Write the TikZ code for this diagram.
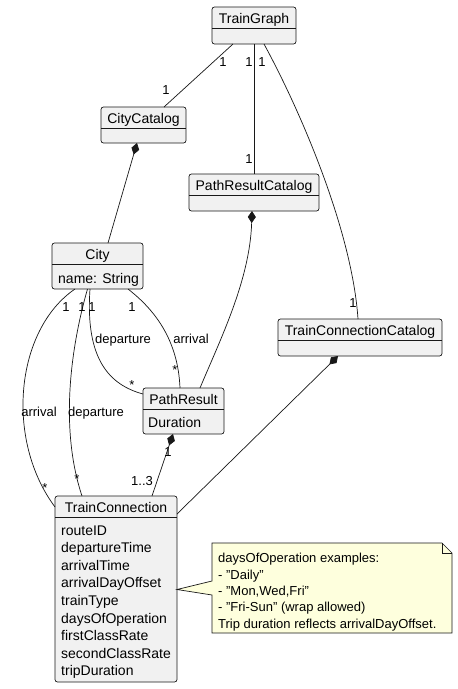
\documentclass[tikz,border=0pt]{standalone}
\usepackage{fontspec}
\setmainfont{Liberation Sans}
\usetikzlibrary{arrows.meta,calc}
\definecolor{lc}{HTML}{181818}
\definecolor{bf}{HTML}{F1F1F1}
\definecolor{nf}{HTML}{FEFFDD}
\tikzset{
 cls/.style={draw=lc, fill=bf, rounded corners=2.5pt, inner sep=0pt, outer sep=0pt, line width=0.7pt},
 cname/.style={anchor=base, inner sep=0pt, font=\fontsize{14}{16}\selectfont},
 attr/.style={anchor=base west, inner sep=0pt, font=\fontsize{14}{16}\selectfont},
 lbl/.style={anchor=base, inner sep=0pt, font=\fontsize{13}{15}\selectfont},
 ntxt/.style={anchor=base west, inner sep=0pt, font=\fontsize{13}{15}\selectfont},
 conn/.style={draw=lc, line width=0.7pt},
 comp/.style={conn, {Diamond[length=12pt,width=8pt,fill=lc]}-},
}
\begin{document}
\begin{tikzpicture}[x=1pt,y=-1pt]
\useasboundingbox[fill=white] (0,0) rectangle (458,689);

% ---------- connectors (drawn first) ----------
% placeholders for node positions via coordinates computed after nodes: draw nodes first on a layer order
% class boxes
\node[cls, minimum width=84pt, minimum height=37pt] (tg) at (254,25.5) {};
\node[cls, minimum width=85pt, minimum height=36pt] (cc) at (143.5,125) {};
\node[cls, minimum width=130pt, minimum height=37pt] (prc) at (254,192.5) {};
\node[cls, minimum width=91pt, minimum height=46pt] (city) at (97.5,266) {};
\node[cls, minimum width=164pt, minimum height=37pt] (tcc) at (360,337.5) {};
\node[cls, minimum width=81pt, minimum height=46pt] (pr) at (183.5,411) {};
\node[cls, minimum width=122pt, minimum height=186pt] (tc) at (116,589) {};

% dividers
\foreach \n in {tg,cc,prc,city,tcc,pr,tc}{
  \draw[conn] ($(\n.north west)+(0,21)$) -- ($(\n.north east)+(0,21)$);
}

% class names
\node[cname] (tgname) at ($(tg.north)+(0,16.8)$) {TrainGraph};
\node[cname] (ccname) at ($(cc.north)+(0,16.8)$) {CityCatalog};
\node[cname] (prcname) at ($(prc.north)+(0,16.8)$) {PathResultCatalog};
\node[cname] (cityname) at ($(city.north)+(0,16.5)$) {City};
\node[cname] (tccname) at ($(tcc.north)+(0,16.8)$) {TrainConnectionCatalog};
\node[cname] (prname) at ($(pr.north)+(0,16.5)$) {PathResult};
\node[cname] (tcname) at ($(tc.north)+(0,16.5)$) {TrainConnection};

% attributes
\node[attr] (cityattr) at (58,283) {name: String};
\node[attr] (prattr) at (148,427) {Duration};
\node[attr] (tca1) at (61,535) {routeID};
\node[attr] (tca2) at (61,552.6) {departureTime};
\node[attr] (tca3) at (61,570.2) {arrivalTime};
\node[attr] (tca4) at (61,587.8) {arrivalDayOffset};
\node[attr] (tca5) at (61,605.4) {trainType};
\node[attr] (tca6) at (61,623) {daysOfOperation};
\node[attr] (tca7) at (61,640.6) {firstClassRate};
\node[attr] (tca8) at (61,658.2) {secondClassRate};
\node[attr] (tca9) at (61,675.8) {tripDuration};

% ---------- connectors ----------
\draw[conn] ($(tg.south)+(-21,0)$) -- ($(cc.north)+(20.5,0)$);
\draw[conn] (tg.south) -- (prc.north);
\draw[conn] ($(tg.south)+(10,0)$) .. controls (300,110) and (352,230) .. ($(tcc.north)+(-2,0)$);
\draw[comp] ($(cc.south)+(-6.5,0)$) -- ($(city.north)+(10.5,0)$);
\draw[comp] ($(prc.south)+(-2,0)$) .. controls (250,280) and (220,340) .. ($(pr.north)+(16.5,0)$);
\draw[conn] ($(city.south)+(-7.5,0)$) .. controls (85,360) and (110,385) .. ($(pr.north west)+(0,6)$);
\draw[conn] ($(city.south)+(30.5,0)$) .. controls (155,310) and (178,340) .. ($(pr.north)+(-3.5,0)$);
\draw[conn] ($(city.south)+(-22.5,0)$) .. controls (15,330) and (5,440) .. ($(tc.north west)+(0,11)$);
\draw[conn] ($(city.south)+(-10,0)$) .. controls (70,350) and (60,430) .. ($(tc.north)+(-34,0)$);
\draw[comp] ($(pr.south)+(-10.5,0)$) -- ($(tc.north)+(36,0)$);
\draw[comp] ($(tcc.south)+(-22,0)$) -- ($(tc.north east)+(0,18)$);

% ---------- labels ----------
\node[lbl] (l1) at (223,66.7) {1};
\node[lbl] (l2) at (166,94.7) {1};
\node[lbl] (l3) at (249,66.7) {1};
\node[lbl] (l4) at (249,163.7) {1};
\node[lbl] (l5) at (262,66.7) {1};
\node[lbl] (l6) at (353,307.7) {1};
\node[lbl] (l7) at (66,311.7) {1};
\node[lbl] (l8) at (82,311.7) {1};
\node[lbl] (l9) at (92,311.7) {1};
\node[lbl] (l10) at (132,311.7) {1};
\node[lbl] (l11) at (123,343.7) {departure};
\node[lbl] (l12) at (191,343.7) {arrival};
\node[lbl] (l13) at (132,389.4) {*};
\node[lbl] (l14) at (175,374.4) {*};
\node[lbl] (l15) at (39,416.7) {arrival};
\node[lbl] (l16) at (96,416.7) {departure};
\node[lbl] (l17) at (45,492.4) {*};
\node[lbl] (l18) at (77,483.4) {*};
\node[lbl] (l19) at (142,485.7) {1..3};
\node[lbl] (l20) at (168,456.7) {1};

% ---------- note ----------
\draw[draw=lc, fill=nf, line width=0.7pt]
  (212,543) -- (442,543) -- (452,553) -- (452,633) -- (212,633) -- (212,595)
  -- ($(tc.east)+(0,0.5)$) -- (212,581) -- cycle;
\draw[draw=lc, line width=0.7pt] (442,543) -- (442,553) -- (452,553);
\node[ntxt] (n1) at (218,562.8) {daysOfOperation examples:};
\node[ntxt] (n2) at (218,579.1) {- "Daily"};
\node[ntxt] (n3) at (218,595.4) {- "Mon,Wed,Fri"};
\node[ntxt] (n4) at (218,611.7) {- "Fri-Sun" (wrap allowed)};
\node[ntxt] (n5) at (218,628) {Trip duration reflects arrivalDayOffset.};
\end{tikzpicture}
\end{document}
